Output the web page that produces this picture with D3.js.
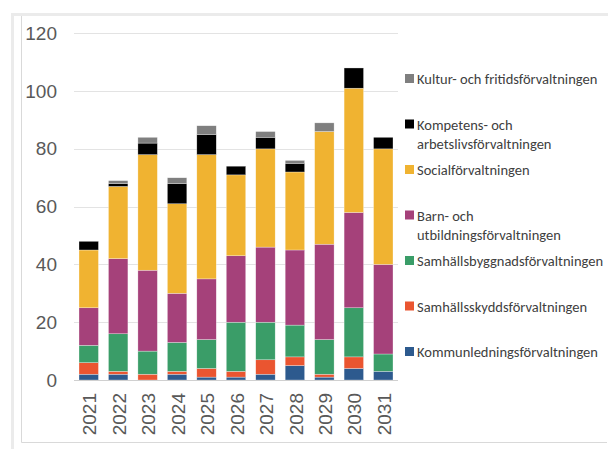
<!DOCTYPE html>
<html>
<head>
<meta charset="utf-8">
<script src="https://cdn.jsdelivr.net/npm/d3@7"></script>
<style>
  body { margin: 0; background: #fff; }
  svg { display: block; font-family: Carlito, "Liberation Sans Narrow", "Liberation Sans", sans-serif; }
</style>
</head>
<body>
<svg id="chart" width="608" height="449"></svg>
<script>
// --- Data ---
const years = ['2021','2022','2023','2024','2025','2026','2027','2028','2029','2030','2031'];
const kommunledning   = [2, 2, 0, 2, 1, 1, 2, 5, 1, 4, 3];
const samhallsskydd   = [4, 1, 2, 1, 3, 2, 5, 3, 1, 4, 0];
const samhallsbyggnad = [6, 13, 8, 10, 10, 17, 13, 11, 12, 17, 6];
const barnUtbildning  = [13, 26, 28, 17, 21, 23, 26, 26, 33, 33, 31];
const social          = [20, 25, 40, 31, 43, 28, 34, 27, 39, 43, 40];
const kompetens       = [3, 1, 4, 7, 7, 3, 4, 3, 0, 7, 4];
const kultur          = [0, 1, 2, 2, 3, 0, 2, 1, 3, 0, 0];
const yTicks = [0, 20, 40, 60, 80, 100, 120];

// stack order, bottom to top
const series = [
  { key: 'kommunledning',   label: ['Kommunledningsförvaltningen'],          color: '#2D5A8E', values: kommunledning },
  { key: 'samhallsskydd',   label: ['Samhällsskyddsförvaltningen'],          color: '#EA5530', values: samhallsskydd },
  { key: 'samhallsbyggnad', label: ['Samhällsbyggnadsförvaltningen'],        color: '#3A9D68', values: samhallsbyggnad },
  { key: 'barnUtbildning',  label: ['Barn- och', 'utbildningsförvaltningen'], color: '#A5417A', values: barnUtbildning },
  { key: 'social',          label: ['Socialförvaltningen'],                  color: '#F0B331', values: social },
  { key: 'kompetens',       label: ['Kompetens- och', 'arbetslivsförvaltningen'], color: '#000000', values: kompetens },
  { key: 'kultur',          label: ['Kultur- och fritidsförvaltningen'],     color: '#7F7F7F', values: kultur }
];

const rows = years.map((y, i) => {
  const r = { year: y };
  series.forEach(s => { r[s.key] = s.values[i]; });
  return r;
});

const svg = d3.select('#chart');

// --- Frame ---
svg.append('rect').attr('x', 11).attr('y', 13).attr('width', 600).attr('height', 3).attr('fill', '#ebebeb');
svg.append('rect').attr('x', 11).attr('y', 13).attr('width', 3).attr('height', 440).attr('fill', '#ebebeb');
svg.append('path')
  .attr('d', 'M21.5,16 V442.5 H607')
  .attr('fill', 'none').attr('stroke', '#d9d9d9').attr('stroke-width', 1);

// --- Scales ---
const x = d3.scaleBand().domain(years).range([74, 398]).paddingInner(0.34).paddingOuter(0.17);
const y = d3.scaleLinear().domain([0, 120]).range([380, 33.3]);

// gridlines
svg.append('g')
  .selectAll('line')
  .data(yTicks.filter(d => d > 0))
  .join('line')
  .attr('x1', 74).attr('x2', 398)
  .attr('y1', d => Math.round(y(d)) + 0.5).attr('y2', d => Math.round(y(d)) + 0.5)
  .attr('stroke', '#e3e3e3').attr('stroke-width', 1);

// y labels
const yAxis = svg.append('g')
  .attr('transform', 'translate(57,0)')
  .call(d3.axisLeft(y).tickValues(yTicks).tickSize(0).tickPadding(0));
yAxis.select('.domain').remove();
yAxis.selectAll('text')
  .attr('font-size', 19).attr('fill', '#595959')
  .style('font-family', 'inherit');

// --- Bars ---
const stack = d3.stack().keys(series.map(s => s.key));
const layers = stack(rows);

svg.append('g')
  .selectAll('g')
  .data(layers)
  .join('g')
  .attr('fill', (d, i) => series[i].color)
  .selectAll('rect')
  .data(d => d.filter(p => p[1] > p[0]))
  .join('rect')
  .attr('x', d => x(d.data.year))
  .attr('width', x.bandwidth())
  .attr('y', d => y(d[1]))
  .attr('height', d => y(d[0]) - y(d[1]))
  .attr('stroke', '#ffffff').attr('stroke-width', 0.5).attr('stroke-opacity', 0.6);

// baseline
svg.append('line')
  .attr('x1', 74).attr('x2', 398)
  .attr('y1', 380.5).attr('y2', 380.5)
  .attr('stroke', '#d0d0d0');

// x labels
const xAxis = svg.append('g')
  .attr('transform', 'translate(0,381)')
  .call(d3.axisBottom(x).tickSize(0).tickPadding(0));
xAxis.select('.domain').remove();
xAxis.selectAll('text')
  .attr('font-size', 19).attr('fill', '#595959')
  .style('font-family', 'inherit')
  .attr('text-anchor', 'end')
  .attr('dy', '0.35em')
  .attr('transform', 'translate(1,12) rotate(-90)');

// --- Legend ---
const legendY = d3.scaleLinear().domain([0, 6]).range([79, 352]);
const legend = svg.append('g')
  .selectAll('g')
  .data(series.slice().reverse())
  .join('g')
  .attr('transform', (d, i) => `translate(405,${legendY(i)})`);

legend.append('rect')
  .attr('x', 0).attr('y', -5).attr('width', 9).attr('height', 9)
  .attr('fill', d => d.color);

legend.append('text')
  .attr('x', 12)
  .attr('font-size', 14.5)
  .attr('fill', '#404040')
  .selectAll('tspan')
  .data(d => d.label)
  .join('tspan')
  .attr('x', 12)
  .attr('y', (d, i) => i * 19)
  .attr('dy', '0.35em')
  .text(d => d);
</script>
</body>
</html>
